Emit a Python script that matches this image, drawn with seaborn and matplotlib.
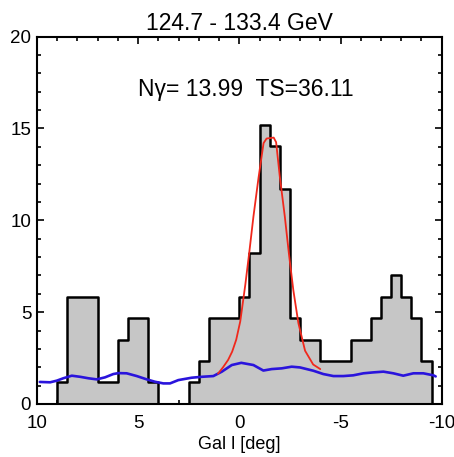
import numpy as np
import pandas as pd
import seaborn as sns
import matplotlib.pyplot as plt
from matplotlib.ticker import MultipleLocator

# histogram counts, 0.5 deg bins from l=10 down to l=-10
hist_vals = [0, 0, 1.17, 5.85, 5.85, 5.85, 1.17, 1.17, 3.5, 4.68,
             4.68, 1.17, 0, 0, 0, 1.17, 2.34, 4.68, 4.68, 4.68,
             5.85, 8.2, 15.2, 14.05, 11.7, 4.68, 3.5, 3.5, 2.34, 2.34,
             2.34, 3.5, 3.5, 4.68, 5.85, 7.0, 5.85, 4.68, 2.34, 0]
l_centers = np.arange(9.75, -10, -0.5)
bin_edges = list(np.arange(-10, 10.5, 0.5))

# background model (blue)
bg_l = [9.85, 9.34, 9.01, 8.69, 8.27, 7.86, 7.45, 7.04, 6.63, 6.22, 5.97, 5.56,
        5.06, 4.57, 4.16, 3.75, 3.42, 3.01, 2.35, 1.85, 1.28, 0.86, 0.37, -0.1,
        -0.7, -1.19, -1.6, -2.1, -2.59, -3.0, -3.66, -4.15, -4.65, -5.14, -5.63,
        -6.13, -6.62, -7.12, -7.61, -8.1, -8.6, -9.09, -9.59, -9.7]
bg_v = [1.2, 1.18, 1.27, 1.4, 1.54, 1.48, 1.4, 1.34, 1.45, 1.63, 1.68, 1.67,
        1.52, 1.34, 1.21, 1.12, 1.12, 1.3, 1.43, 1.48, 1.52, 1.76, 2.12, 2.24,
        2.12, 1.82, 1.9, 1.94, 2.03, 1.99, 1.81, 1.63, 1.52, 1.52, 1.56,
        1.67, 1.72, 1.76, 1.67, 1.54, 1.67, 1.67, 1.56, 1.5]

# line + background fit (red)
fit_l = [1.05, 0.8, 0.55, 0.35, 0.15, -0.05, -0.3, -0.5, -0.7, -0.95, -1.2,
         -1.35, -1.7, -1.82, -2.0, -2.25, -2.45, -2.67, -2.92, -3.25, -3.65, -4.0]
fit_v = [1.65, 2.0, 2.4, 2.85, 3.5, 4.5, 6.5, 8.3, 10.2, 12.3, 14.2,
         14.45, 14.5, 14.25, 12.4, 10.2, 8.2, 6.2, 4.4, 2.9, 2.15, 1.9]

hist_df = pd.DataFrame({'l': l_centers, 'n': hist_vals})

sns.set_style("ticks")
plt.rcParams['font.family'] = ['Liberation Sans', 'DejaVu Sans']
plt.rcParams['axes.unicode_minus'] = False
plt.rcParams['text.color'] = 'black'
plt.rcParams['xtick.color'] = 'black'
plt.rcParams['ytick.color'] = 'black'
plt.rcParams['axes.labelcolor'] = 'black'

fig = plt.figure(figsize=(4.54, 4.57), dpi=100)
ax = fig.add_axes([0.081, 0.116, 0.892, 0.804])

sns.histplot(data=hist_df, x='l', weights='n', bins=bin_edges, element='step',
             fill=True, color='#c6c6c6', alpha=1, edgecolor='black',
             linewidth=1.8, ax=ax)
sns.lineplot(x=bg_l, y=bg_v, sort=False, color='#2a14dc', linewidth=1.9, ax=ax)
sns.lineplot(x=fit_l, y=fit_v, sort=False, color='#f0281c', linewidth=1.3, ax=ax)

ax.set_xlim(10, -10)
ax.set_ylim(0, 20)
ax.xaxis.set_major_locator(MultipleLocator(5))
ax.xaxis.set_minor_locator(MultipleLocator(1))
ax.yaxis.set_major_locator(MultipleLocator(5))
ax.yaxis.set_minor_locator(MultipleLocator(1))
ax.tick_params(which='both', direction='in', top=True, right=True,
               labelsize=13.5, width=1.2)
ax.tick_params(which='major', length=5)
ax.tick_params(which='minor', length=3)
ax.tick_params(axis='x', pad=8)
ax.tick_params(axis='y', pad=4)
for s in ax.spines.values():
    s.set_linewidth(1.5)
    s.set_color('black')

ax.set_ylabel('')
ax.set_xlabel('Gal l [deg]', fontsize=13, labelpad=3)
ax.set_title('124.7 - 133.4 GeV', fontsize=16.5, pad=5)
ax.text(-0.3, 17.1, 'N\u03b3= 13.99  TS=36.11', fontsize=16.5,
        ha='center', va='center')

plt.savefig('out.png', dpi=100)
